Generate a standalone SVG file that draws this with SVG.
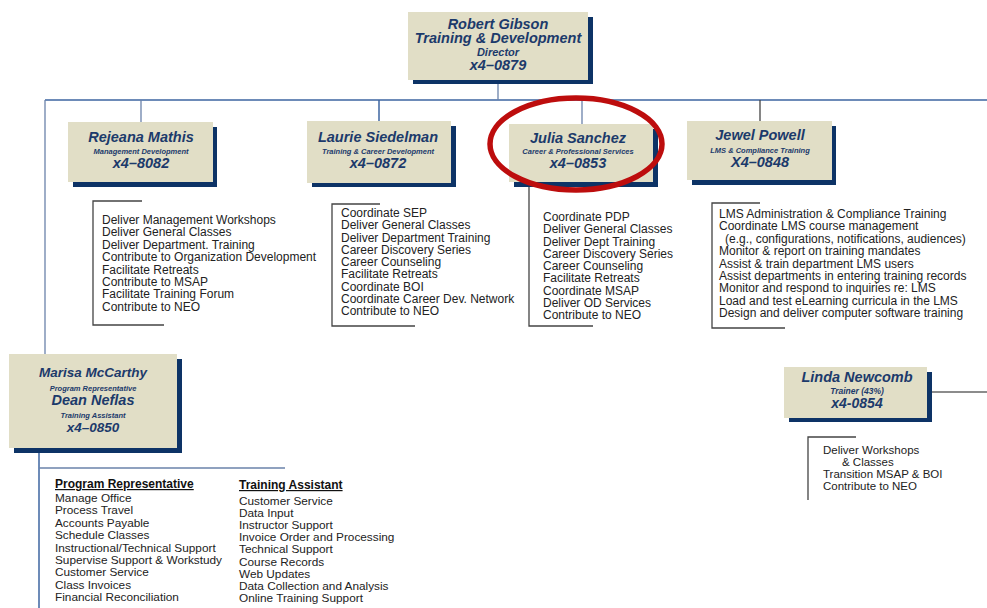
<svg xmlns="http://www.w3.org/2000/svg" width="987" height="608" viewBox="0 0 987 608">
<style>
.shadow{fill:#0d3366}
.box{fill:#e1dec6}
.nm{font-family:"Liberation Sans",Arial,sans-serif;font-weight:bold;font-style:italic;fill:#1c3a6b;text-anchor:middle}
.n15{font-size:14.5px}
.n7{font-size:7.5px}
.n10{font-size:8.5px}
.li{font-family:"Liberation Sans",Arial,sans-serif;font-size:12px;fill:#222}
.hd{font-family:"Liberation Sans",Arial,sans-serif;font-size:12px;font-weight:bold;fill:#111;text-decoration:underline}
.blue{stroke:#3c64a0;stroke-width:1.5;fill:none}
.lb{stroke:#6a82aa;stroke-width:1.3;fill:none}
.dk{stroke:#444;stroke-width:1.3;fill:none}
</style>
<g id="connectors">
<line class="blue" x1="45" y1="100" x2="987" y2="100"/>
<line class="lb" x1="498" y1="84" x2="498" y2="100"/>
<line class="lb" x1="45" y1="100" x2="45" y2="354"/>
<line class="lb" x1="141" y1="100" x2="141" y2="122"/>
<line class="blue" x1="379" y1="100" x2="379" y2="121"/>
<line class="lb" x1="582" y1="100" x2="582" y2="125"/>
<line class="dk" x1="760" y1="100" x2="760" y2="121"/>
<polyline class="dk" points="142,201 93,201 93,325 164,325"/>
<polyline class="dk" points="380,204 332,204 332,326 415,326"/>
<polyline class="dk" points="529,187 529,326 593,326"/>
<polyline class="dk" points="760,203 712,203 712,328 785,328"/>
<line class="blue" x1="39" y1="453" x2="39" y2="608"/>
<line class="lb" x1="39" y1="468" x2="285" y2="468"/>
<line class="dk" x1="932" y1="392" x2="987" y2="392" style="stroke:#666"/>
<polyline class="dk" points="856,437 808,437 808,500"/>
</g>
<g id="robert">
<rect class="shadow" x="413" y="17" width="180" height="67"/>
<rect class="box" x="408" y="12" width="180" height="68"/>
<text class="nm n15" x="498" y="29">Robert Gibson</text>
<text class="nm n15" x="498" y="43">Training &amp; Development</text>
<text class="nm" x="498" y="56" style="font-size:11px">Director</text>
<text class="nm n15" x="498" y="70">x4–0879</text>
</g>
<g id="rejeana">
<rect class="shadow" x="73" y="127" width="144" height="60"/>
<rect class="box" x="68" y="122" width="145" height="60"/>
<text class="nm n15" x="141" y="142">Rejeana Mathis</text>
<text class="nm n7" x="141" y="154">Management Development</text>
<text class="nm n15" x="141" y="168">x4–8082</text>
<g class="li">
<text x="102" y="224">Deliver Management Workshops</text>
<text x="102" y="236.4">Deliver General Classes</text>
<text x="102" y="248.8">Deliver Department. Training</text>
<text x="102" y="261.2">Contribute to Organization Development</text>
<text x="102" y="273.6">Facilitate Retreats</text>
<text x="102" y="286">Contribute to MSAP</text>
<text x="102" y="298.4">Facilitate Training Forum</text>
<text x="102" y="310.8">Contribute to NEO</text>
</g>
</g>
<g id="laurie">
<rect class="shadow" x="312" y="126" width="144" height="61"/>
<rect class="box" x="307" y="121" width="144" height="62"/>
<text class="nm n15" x="378" y="142">Laurie Siedelman</text>
<text class="nm n7" x="378" y="154">Training &amp; Career Development</text>
<text class="nm n15" x="378" y="168">x4–0872</text>
<g class="li">
<text x="341" y="217">Coordinate SEP</text>
<text x="341" y="229.25">Deliver General Classes</text>
<text x="341" y="241.5">Deliver Department Training</text>
<text x="341" y="253.75">Career Discovery Series</text>
<text x="341" y="266">Career Counseling</text>
<text x="341" y="278.25">Facilitate Retreats</text>
<text x="341" y="290.5">Coordinate BOI</text>
<text x="341" y="302.75">Coordinate Career Dev. Network</text>
<text x="341" y="315">Contribute to NEO</text>
</g>
</g>
<g id="julia">
<rect class="shadow" x="514" y="129" width="144" height="58"/>
<rect class="box" x="509" y="124" width="144" height="58"/>
<text class="nm n15" x="578" y="143">Julia Sanchez</text>
<text class="nm n7" x="578" y="154">Career &amp; Professional Services</text>
<text class="nm n15" x="578" y="168">x4–0853</text>
<g class="li">
<text x="543" y="221">Coordinate PDP</text>
<text x="543" y="233.25">Deliver General Classes</text>
<text x="543" y="245.5">Deliver Dept Training</text>
<text x="543" y="257.75">Career Discovery Series</text>
<text x="543" y="270">Career Counseling</text>
<text x="543" y="282.25">Facilitate Retreats</text>
<text x="543" y="294.5">Coordinate MSAP</text>
<text x="543" y="306.75">Deliver OD Services</text>
<text x="543" y="319">Contribute to NEO</text>
</g>
<ellipse cx="576" cy="144" rx="86" ry="46" fill="none" stroke="#bd0d0d" stroke-width="5.5"/>
</g>
<g id="jewel">
<rect class="shadow" x="692" y="126" width="144" height="59"/>
<rect class="box" x="687" y="121" width="145" height="59"/>
<text class="nm n15" x="760" y="140">Jewel Powell</text>
<text class="nm n7" x="760" y="153">LMS &amp; Compliance Training</text>
<text class="nm n15" x="760" y="167">X4–0848</text>
<g class="li">
<text x="719" y="218">LMS Administration &amp; Compliance Training</text>
<text x="719" y="230.4">Coordinate LMS course management</text>
<text x="725" y="242.8">(e.g., configurations, notifications, audiences)</text>
<text x="719" y="255.2">Monitor &amp; report on training mandates</text>
<text x="719" y="267.6">Assist &amp; train department LMS users</text>
<text x="719" y="280">Assist departments in entering training records</text>
<text x="719" y="292.4">Monitor and respond to inquiries re: LMS</text>
<text x="719" y="304.8">Load and test eLearning curricula in the LMS</text>
<text x="719" y="317.2">Design and deliver computer software training</text>
</g>
</g>
<g id="marisa">
<rect class="shadow" x="14" y="359" width="168" height="94"/>
<rect class="box" x="9" y="354" width="168" height="94"/>
<text class="nm" x="93" y="377" style="font-size:13.5px">Marisa McCarthy</text>
<text class="nm n7" x="93" y="391">Program Representative</text>
<text class="nm n15" x="93" y="405">Dean Neflas</text>
<text class="nm n7" x="93" y="418">Training Assistant</text>
<text class="nm" x="93" y="432" style="font-size:13.5px">x4–0850</text>
<text class="hd" x="55" y="488">Program Representative</text>
<g class="li" style="font-size:11.8px">
<text x="55" y="502">Manage Office</text>
<text x="55" y="514.4">Process Travel</text>
<text x="55" y="526.8">Accounts Payable</text>
<text x="55" y="539.2">Schedule Classes</text>
<text x="55" y="551.6">Instructional/Technical Support</text>
<text x="55" y="564">Supervise Support &amp; Workstudy</text>
<text x="55" y="576.4">Customer Service</text>
<text x="55" y="588.8">Class Invoices</text>
<text x="55" y="601.2">Financial Reconciliation</text>
</g>
<text class="hd" x="239" y="489">Training Assistant</text>
<g class="li" style="font-size:11.8px">
<text x="239" y="505">Customer Service</text>
<text x="239" y="517.1">Data Input</text>
<text x="239" y="529.2">Instructor Support</text>
<text x="239" y="541.3">Invoice Order and Processing</text>
<text x="239" y="553.4">Technical Support</text>
<text x="239" y="565.5">Course Records</text>
<text x="239" y="577.6">Web Updates</text>
<text x="239" y="589.7">Data Collection and Analysis</text>
<text x="239" y="601.8">Online Training Support</text>
</g>
</g>
<g id="linda">
<rect class="shadow" x="789" y="372" width="143" height="50"/>
<rect class="box" x="784" y="367" width="143" height="51"/>
<text class="nm n15" x="857" y="382">Linda Newcomb</text>
<text class="nm n10" x="857" y="394">Trainer (43%)</text>
<text class="nm" x="857" y="408" style="font-size:14px">x4-0854</text>
<g class="li" style="font-size:11.5px">
<text x="823" y="454">Deliver Workshops</text>
<text x="842" y="466">&amp; Classes</text>
<text x="823" y="478">Transition MSAP &amp; BOI</text>
<text x="823" y="490">Contribute to NEO</text>
</g>
</g>
</svg>
